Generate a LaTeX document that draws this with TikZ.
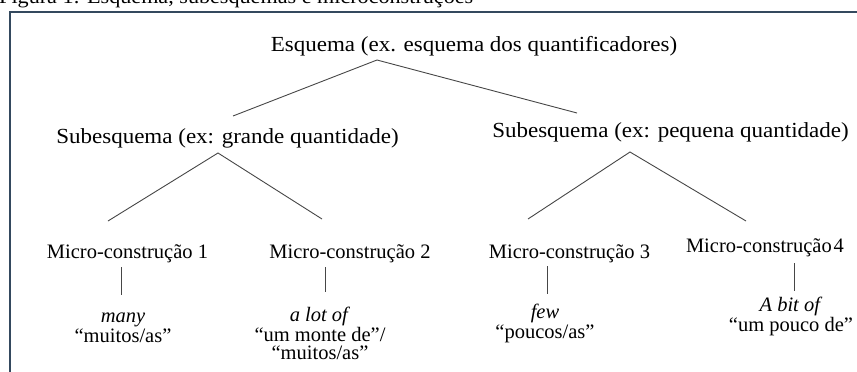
\documentclass[tikz,border=0pt]{standalone}
\usepackage{fontspec}
\setmainfont{Liberation Serif}
\begin{document}
\begin{tikzpicture}[x=1pt,y=-1pt,
  lbl/.style={inner sep=0pt,anchor=base,font=\fontsize{20.5}{18}\selectfont},
  big/.style={lbl,font=\fontsize{21.5}{22}\selectfont,xscale=1.07},
  block/.style={lbl,align=center,font=\fontsize{20.5}{18}\selectfont},
  conn/.style={draw={rgb,255:red,70;green,70;blue,70},line width=0.9pt},
  frame/.style={draw={rgb,255:red,52;green,73;blue,94},line width=2pt}]
\useasboundingbox (0,0) rectangle (857,372);
% caption (cut at the top)
\node[lbl,anchor=base west,xscale=1.08] (cap) at (-1,3.5) {Figura 1: Esquema, subesquemas e microconstruções};
% frame
\coordinate (fbl) at (10,380);
\coordinate (ftr) at (870,12);
\draw[frame] (fbl) |- (ftr);
% texts
\node[big] (esq) at (474,51) {Esquema (ex. esquema dos quantificadores)};
\node[big] (subL) at (227.5,143) {Subesquema (ex: grande quantidade)};
\node[big] (subR) at (670.5,137) {Subesquema (ex: pequena quantidade)};
\node[lbl] (mc1) at (127.5,258) {Micro-construção 1};
\node[lbl] (mc2) at (350,258) {Micro-construção 2};
\node[lbl] (mc3) at (569.5,258) {Micro-construção 3};
\node[lbl] (mc4) at (765,252) {Micro-construção\kern2pt 4};
% anchor base = baseline of the last line
\node[block] (ex1) at (123,342) {\textit{many}\\“muitos/as”};
\node[block] (ex2) at (320,359) {\textit{a lot of}\\“um monte de”/\\“muitos/as”};
\node[block] (ex3) at (545,338) {\textit{few}\\“poucos/as”};
\node[block] (ex4) at (791,331) {\textit{A bit of}\\“um pouco de”};
% connector points
\coordinate (a0) at (377,60);
\coordinate (a0l) at (233,116);
\coordinate (a0r) at (577,113);
\coordinate (a1) at (218,153);
\coordinate (a1l) at (108,221);
\coordinate (a1r) at (322,219);
\coordinate (a2) at (630,152);
\coordinate (a2l) at (528,219);
\coordinate (a2r) at (746,221);
\coordinate (v1t) at (121,267); \coordinate (v1b) at (121,295);
\coordinate (v2t) at (325,267); \coordinate (v2b) at (325,292);
\coordinate (v3t) at (547,266); \coordinate (v3b) at (547,294);
\coordinate (v4t) at (794,263); \coordinate (v4b) at (794,291);
\draw[conn] (a0l) -- (a0) -- (a0r);
\draw[conn] (a1l) -- (a1) -- (a1r);
\draw[conn] (a2l) -- (a2) -- (a2r);
\draw[conn] (v1t) -- (v1b);
\draw[conn] (v2t) -- (v2b);
\draw[conn] (v3t) -- (v3b);
\draw[conn] (v4t) -- (v4b);
\end{tikzpicture}
\end{document}
